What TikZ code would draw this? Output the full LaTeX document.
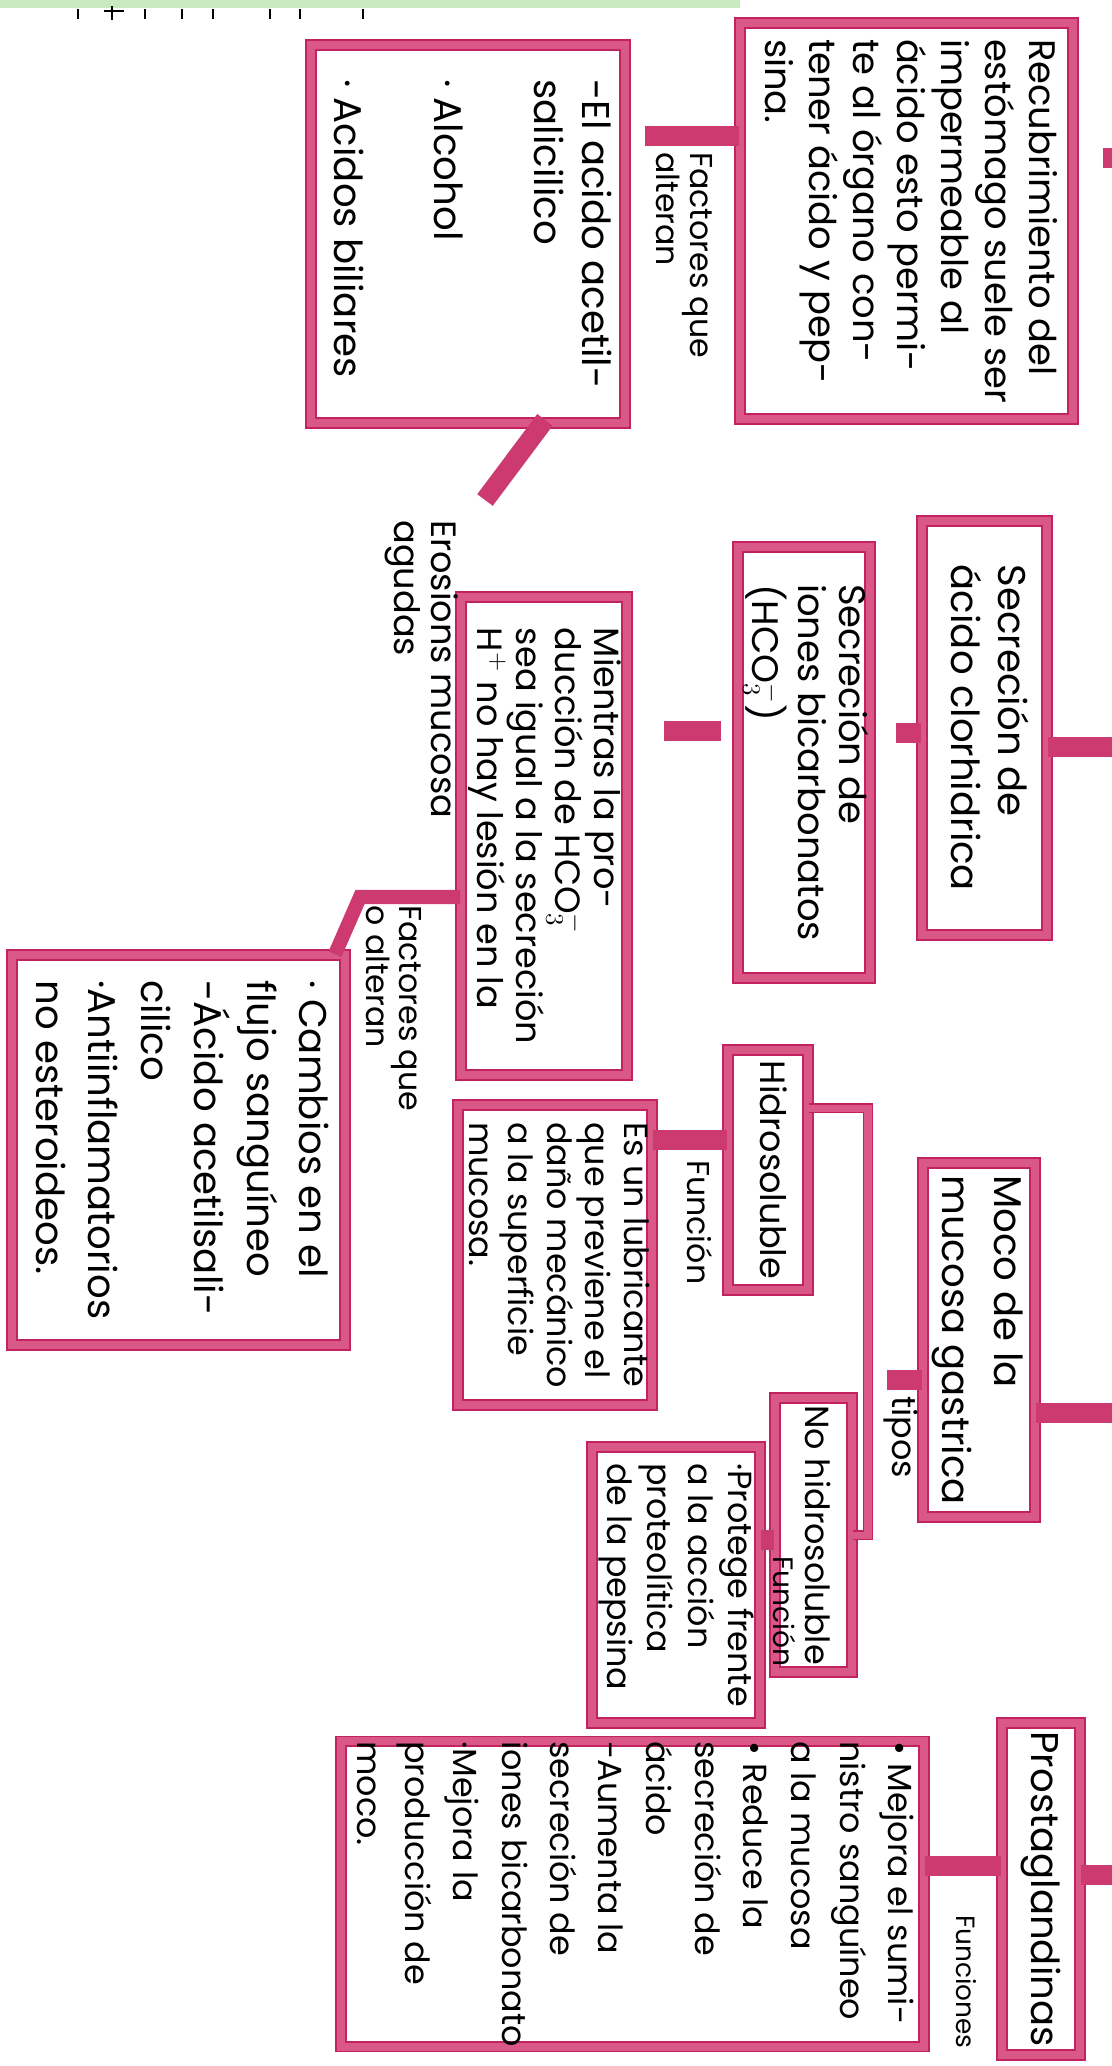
\documentclass[tikz,border=0pt]{standalone}
\usepackage{fontspec}
\setmainfont{Poppins}
\usetikzlibrary{positioning}
\definecolor{inkpink}{RGB}{194,34,96}
\definecolor{markpink}{RGB}{218,88,134}
\definecolor{barpink}{RGB}{204,58,112}
\definecolor{notegreen}{RGB}{176,226,166}

% vertical (turned) text block, lines read top to bottom
\newcommand{\vtext}[1]{\rotatebox{-90}{\begin{tabular}{@{}l@{}}#1\end{tabular}}}

\begin{document}
\begin{tikzpicture}[
    x=0.02cm, y=-0.02cm,
    box/.style={rectangle, draw=inkpink, double=markpink, line width=1pt, double distance=4.4pt, inner sep=0pt},
    bar/.style={draw=barpink, line width=11pt},
    link/.style={draw=inkpink, double=markpink, line width=1pt, double distance=4pt},
    tag/.style={inner sep=0pt, anchor=north},
    ]
    \useasboundingbox (0,0) rectangle (1112,2066);
    \fill[white] (0,0) rectangle (1112,2066);

    % notebook edge
    \fill[notegreen, opacity=0.7] (0,0) rectangle (740,8);
    \foreach \tx in {78,145,182,213,270,300,363}
        \draw[line width=1.2pt] (\tx,9) -- (\tx,19);
    \draw[line width=1.2pt] (104,11) -- (124,11) (112,6) -- (112,20);

    %%% upper part: mucosal barrier %%%
    \node[box, minimum width=6.66cm, minimum height=7.92cm, font=\fontsize{21}{25}\selectfont] (recub) at (906.5,221)
        {\vtext{Recubrimiento del\\estómago suele ser\\impermeable al\\ácido esto permi-\\te al órgano con-\\tener ácido y pep-\\sina.}};
    \node[box, minimum width=6.28cm, minimum height=7.56cm, font=\fontsize{22}{27}\selectfont] (agentes) at (468,234)
        {\vtext{-El acido acetil-\\salicilico\\[30pt]· Alcohol\\[30pt]· Acidos biliares}};
    \node[tag, font=\fontsize{18}{19}\selectfont] (lblalteran) at (680,152) {\vtext{Factores que\\alteran}};

    % secretion boxes
    \node[box, minimum width=2.5cm, minimum height=8.28cm, font=\fontsize{22}{27}\selectfont] (acido) at (984.5,728)
        {\vtext{Secreción de\\ácido clorhidrica}};
    \node[box, minimum width=2.64cm, minimum height=8.62cm, font=\fontsize{21}{23}\selectfont] (iones) at (804,762.5)
        {\vtext{Secreción de\\iones bicarbonatos\\(HCO$_3^-$)}};
    \node[box, minimum width=3.32cm, minimum height=9.56cm, font=\fontsize{20}{21}\selectfont] (equilibrio) at (544,836)
        {\vtext{Mientras la pro-\\ducción de HCO$_3^-$\\sea igual a la secreción\\H$^+$ no hay lesión en la}};
    \node[tag, font=\fontsize{20}{21}\selectfont] (lblerosion) at (421,520) {\vtext{Erosions mucosa\\agudas}};
    \node[tag, font=\fontsize{18}{18}\selectfont] (lblaltera) at (389,905) {\vtext{Factores que\\o alteran}};
    \node[box, minimum width=6.66cm, minimum height=7.8cm, font=\fontsize{22}{30}\selectfont] (cambios) at (178.5,1150)
        {\vtext{· Cambios en el\\flujo sanguíneo\\-Ácido acetilsali-\\cilico\\·Antiinflamatorios\\no esteroideos.}};

    %%% mucus %%%
    \node[box, minimum width=2.24cm, minimum height=7.08cm, font=\fontsize{22}{30}\selectfont] (moco) at (979,1340)
        {\vtext{Moco de la\\mucosa gastrica}};
    \node[tag, font=\fontsize{19}{20}\selectfont] (lbltipos) at (900,1396) {\vtext{tipos}};
    \node[box, minimum width=1.6cm, minimum height=4.8cm, font=\fontsize{20}{22}\selectfont] (hidro) at (768,1170)
        {\vtext{Hidrosoluble}};
    \node[tag, font=\fontsize{18}{19}\selectfont] (lblfuncionA) at (695,1160) {\vtext{Función}};
    \node[box, minimum width=3.88cm, minimum height=6cm, font=\fontsize{19}{22}\selectfont] (lubric) at (555,1255)
        {\vtext{Es un lubricante\\que previene el\\daño mecánico\\a la superficie\\mucosa.}};
    \node[box, minimum width=1.54cm, minimum height=5.48cm, font=\fontsize{19}{22}\selectfont] (nohidro) at (813.5,1535)
        {\vtext{No hidrosoluble}};
    \node[tag, font=\fontsize{16}{17}\selectfont] (lblfuncionB) at (780,1556) {\vtext{Función}};
    \node[box, minimum width=3.36cm, minimum height=5.52cm, font=\fontsize{19}{23}\selectfont] (protege) at (676,1585)
        {\vtext{·Protege frente\\a la acción\\proteolítica\\de la pepsina}};

    %%% prostaglandins %%%
    \node[box, minimum width=1.56cm, minimum height=6.64cm, font=\fontsize{22}{26}\selectfont] (prosta) at (1041,1889)
        {\vtext{Prostaglandinas}};
    \node[tag, font=\fontsize{15}{16}\selectfont] (lblfunciones) at (962,1915) {\vtext{Funciones}};
    \node[box, minimum width=11.66cm, minimum height=5.96cm, font=\fontsize{19}{27.5}\selectfont] (mejora) at (632.5,1894)
        {\vtext{• Mejora el sumi-\\nistro sanguíneo\\a la mucosa\\• Reduce la\\secreción de\\ácido\\-Aumenta la\\secreción de\\iones bicarbonato\\·Mejora la\\producción de\\moco.}};

    % main spine stubs
    \coordinate (sp1)  at (1112,158);
    \coordinate (sp4)  at (1112,747);
    \coordinate (sp10) at (1112,1413);
    \coordinate (sp18) at (1112,1875);
    \draw[bar] (sp1) -- ++(-9,0);
    \draw[bar] (acido.east |- sp4)   -- (sp4);
    \draw[bar] (moco.east |- sp10)   -- (sp10);
    \draw[bar] (prosta.east |- sp18) -- (sp18);

    % upper links
    \coordinate (alt) at (645,136);
    \coordinate (ero) at (485,500);
    \draw[bar] (alt) -- (alt -| recub.west);
    \draw[bar] (agentes.south) ++(77,-4) -- (ero);
    \draw[bar] (acido.west |- 0,733) -- ++(-25,0);
    \draw[bar] (iones.west |- 0,731) ++(-16,0) -- ++(-57,0);
    \coordinate (kink) at (360,897);
    \draw[bar, line width=8pt] (equilibrio.west |- kink) -- (kink) -- (cambios.north -| 335,0);

    % mucus links
    \coordinate (tp) at (868,1108);
    \coordinate (bt) at (868,1535);
    \draw[link] (hidro.east |- tp) -- (tp) -- (bt) -- (bt -| nohidro.east);
    \draw[bar] (moco.west |- 0,1380) -- ++(-35,0);
    \draw[bar] (lubric.east |- 0,1140) -- (hidro.west |- 0,1140);
    \draw[bar] (protege.east |- 0,1540) -- (nohidro.west |- 0,1540);

    % prostaglandin link
    \draw[bar] (mejora.east |- 0,1866) -- (prosta.west |- 0,1866);
\end{tikzpicture}
\end{document}
